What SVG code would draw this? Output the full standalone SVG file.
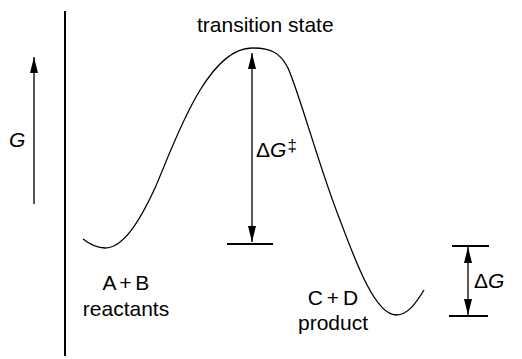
<svg xmlns="http://www.w3.org/2000/svg" width="522" height="359" viewBox="0 0 522 359">
<style>
text{font-family:"Liberation Sans",Arial,sans-serif;font-size:21px;fill:#000}
.it{font-style:italic}
.bar{stroke:#000;stroke-width:2}
.arr{stroke:#000;stroke-width:1.3;fill:none}
.ws{word-spacing:-2px}
</style>
<defs>
<marker id="ah" viewBox="0 0 16 8" refX="16" refY="4" markerWidth="16" markerHeight="8" markerUnits="userSpaceOnUse" orient="auto-start-reverse">
<path d="M0,0 L16,4 L0,8 z" fill="#000"/>
</marker>
</defs>
<g id="axis">
<line x1="65" y1="11" x2="65" y2="356" class="bar"/>
</g>
<g id="g-axis">
<line x1="34" y1="204" x2="34" y2="57" stroke="#555" stroke-width="2" marker-end="url(#ah)"/>
<text x="9" y="147" class="it">G</text>
</g>
<g id="curve">
<path d="M83 239 C92 246 98 248 105 248 C122 248 138 225 155 188 C172 150 205 48 252 48 C270 48 280 52 288 68 C300 95 320 170 340 220 C355 260 375 315 396 315 C408 315 416 303 424 290" fill="none" stroke="#000" stroke-width="1.3"/>
</g>
<g id="transition-state">
<text x="197" y="32">transition state</text>
</g>
<g id="reactants">
<text x="126" y="290" text-anchor="middle" class="ws">A + B</text>
<text x="126" y="316" text-anchor="middle">reactants</text>
</g>
<g id="product">
<text x="333" y="305" text-anchor="middle" class="ws">C + D</text>
<text x="333" y="330" text-anchor="middle">product</text>
</g>
<g id="connectors">
<line x1="252" y1="53" x2="252" y2="242" class="arr" marker-start="url(#ah)" marker-end="url(#ah)"/>
<line x1="227" y1="244" x2="273" y2="244" class="bar"/>
<line x1="468" y1="247" x2="468" y2="315" class="arr" marker-start="url(#ah)" marker-end="url(#ah)"/>
<line x1="452" y1="246" x2="489" y2="246" class="bar"/>
<line x1="449" y1="316" x2="488" y2="316" class="bar"/>
</g>
<g id="dg-dagger">
<text x="256" y="157">Δ<tspan class="it">G</tspan><tspan font-size="17" dx="1" dy="-6">‡</tspan></text>
</g>
<g id="dg">
<text x="474" y="288">Δ<tspan class="it">G</tspan></text>
</g>
</svg>
